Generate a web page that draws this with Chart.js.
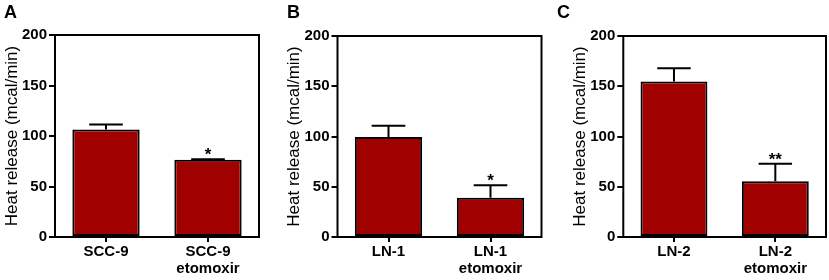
<!DOCTYPE html>
<html>
<head>
<meta charset="utf-8">
<script src="https://cdn.jsdelivr.net/npm/chart.js@4/dist/chart.umd.min.js"></script>
<style>
  html, body { margin: 0; padding: 0; background: #fff; }
  #wrap { position: relative; width: 829px; height: 280px; overflow: hidden; }
  .panel { position: absolute; top: 0; height: 280px; }
</style>
</head>
<body>
<div id="wrap">
  <div class="panel" style="left:0;width:275px"><canvas id="chartA"></canvas></div>
  <div class="panel" style="left:275px;width:277px"><canvas id="chartB"></canvas></div>
  <div class="panel" style="left:552px;width:277px"><canvas id="chartC"></canvas></div>
</div>
<script>
// data
const labelsA = ["SCC-9", ["SCC-9", "etomoxir"]];
const valuesA = [106.5, 76.5];
const errorsA = [5, 0.5];
const marksA = ["", "*"];

const labelsB = ["LN-1", ["LN-1", "etomoxir"]];
const valuesB = [99.5, 39];
const errorsB = [11.2, 12.4];
const marksB = ["", "*"];

const labelsC = ["LN-2", ["LN-2", "etomoxir"]];
const valuesC = [154.8, 55.4];
const errorsC = [13.2, 17.6];
const marksC = ["", "**"];

const yTicks = [0, 50, 100, 150, 200];

const FONT = "'Liberation Sans', Arial, Helvetica, sans-serif";
const BAR_RED = "#a00000";

// box around plot + upward error bars + significance stars + panel letter
const panelDeco = {
  id: "panelDeco",
  afterDatasetsDraw(chart, args, opts) {
    const ctx = chart.ctx;
    const area = chart.chartArea;
    const yScale = chart.scales.y;
    const meta = chart.getDatasetMeta(0);
    ctx.save();
    ctx.strokeStyle = "#000";
    ctx.lineWidth = 2;
    meta.data.forEach((bar, i) => {
      const top = yScale.getPixelForValue(opts.values[i] + opts.errors[i]);
      const half = bar.width / 4;
      ctx.beginPath();
      ctx.moveTo(bar.x, bar.y);
      ctx.lineTo(bar.x, top);
      ctx.moveTo(bar.x - half, top);
      ctx.lineTo(bar.x + half, top);
      ctx.stroke();
      if (opts.marks[i]) {
        ctx.fillStyle = "#000";
        ctx.font = "bold 17px " + FONT;
        ctx.textAlign = "center";
        ctx.textBaseline = "alphabetic";
        ctx.fillText(opts.marks[i], bar.x, top + 1);
      }
    });
    ctx.strokeRect(area.left, area.top, area.right - area.left, area.bottom - area.top);
    ctx.fillStyle = "#000";
    ctx.font = "bold 18px " + FONT;
    ctx.textAlign = "left";
    ctx.textBaseline = "top";
    ctx.fillText(opts.letter, opts.letterX, 4);
    ctx.restore();
  }
};

function makePanel(id, labels, values, errors, marks, letter, letterX, pad) {
  return new Chart(document.getElementById(id).getContext("2d"), {
    type: "bar",
    data: {
      labels: labels,
      datasets: [{
        data: values,
        backgroundColor: BAR_RED,
        borderColor: "#000",
        borderWidth: 2,
        borderSkipped: false,
        barPercentage: 0.66,
        categoryPercentage: 1
      }]
    },
    options: {
      responsive: false,
      animation: false,
      devicePixelRatio: 1,
      layout: { padding: pad },
      plugins: {
        legend: { display: false },
        tooltip: { enabled: false },
        panelDeco: { values: values, errors: errors, marks: marks, letter: letter, letterX: letterX }
      },
      scales: {
        x: {
          grid: { offset: false, drawOnChartArea: false, drawTicks: true, tickLength: 5, color: "#000", lineWidth: 2 },
          border: { display: false },
          ticks: { color: "#000", padding: 2, maxRotation: 0, autoSkip: false,
                   font: { family: FONT, size: 15, weight: "bold", lineHeight: 1.1 } },
          afterFit: (s) => { s.height = 43; }
        },
        y: {
          min: 0,
          max: 200,
          afterBuildTicks: (s) => { s.ticks = yTicks.map((v) => ({ value: v })); },
          grid: { drawOnChartArea: false, drawTicks: true, tickLength: 6, color: "#000", lineWidth: 2 },
          border: { display: false },
          ticks: { color: "#000", padding: 2, font: { family: FONT, size: 15, weight: "bold" } },
          title: { display: true, text: "Heat release (mcal/min)", color: "#000", padding: { top: 2, bottom: 0 },
                   font: { family: FONT, size: 17, weight: "normal" } },
          afterFit: (s) => { s.width = 55; }
        }
      }
    },
    plugins: [panelDeco]
  });
}

function sizeCanvas(id, w) {
  const c = document.getElementById(id);
  c.width = w; c.height = 280;
  c.style.width = w + "px"; c.style.height = "280px";
}
sizeCanvas("chartA", 275);
sizeCanvas("chartB", 277);
sizeCanvas("chartC", 277);

makePanel("chartA", labelsA, valuesA, errorsA, marksA, "A", 4,
  { left: 0, right: 16, top: 35, bottom: 0 });
makePanel("chartB", labelsB, valuesB, errorsB, marksB, "B", 12,
  { left: 7.5, right: 10.5, top: 36, bottom: 0 });
makePanel("chartC", labelsC, valuesC, errorsC, marksC, "C", 5,
  { left: 16.3, right: 3, top: 36, bottom: 0 });
</script>
</body>
</html>
